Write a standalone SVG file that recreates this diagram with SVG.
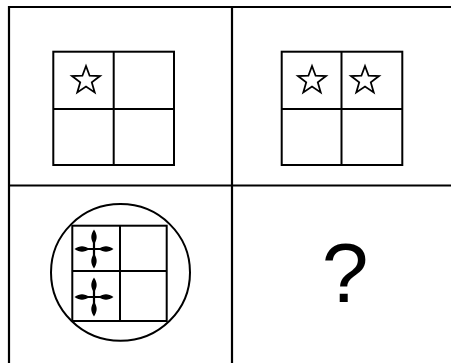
<svg xmlns="http://www.w3.org/2000/svg" xmlns:xlink="http://www.w3.org/1999/xlink" width="451" height="363" viewBox="0 0 451 363">
<style>
.frame{stroke:#000;stroke-width:2.2;fill:none}
.grid{stroke:#000;stroke-width:2;fill:none}
.star{stroke:#000;stroke-width:1.8;fill:#fff;stroke-linejoin:miter}
.q{font-family:"Liberation Sans",Arial,sans-serif;font-size:84px;fill:#000}
</style>
<defs>
<polygon id="star" points="0,-14.5 3.6,-4.8 14,-4.5 5.8,1.9 8.7,11.9 0,6.1 -8.7,11.9 -5.8,1.9 -14,-4.5 -3.6,-4.8"/>
<g id="cross">
<path d="M-16,0H16M0,-17V17" stroke="#000" stroke-width="2.2"/>
<path d="M0,-19.5C3.6,-14 3.6,-10 0,-4.5C-3.6,-10 -3.6,-14 0,-19.5Z M0,19.5C3.6,14 3.6,10 0,4.5C-3.6,10 -3.6,14 0,19.5Z M-19.5,0C-14,3.6 -10,3.6 -4.5,0C-10,-3.6 -14,-3.6 -19.5,0Z M19.5,0C14,3.6 10,3.6 4.5,0C10,-3.6 14,-3.6 19.5,0Z" fill="#000"/>
</g>
</defs>
<rect width="451" height="363" fill="#fff"/>
<g id="frame">
<path class="frame" d="M9,363V7H451M232,7V363M9,185.5H451"/>
</g>
<g id="panel1">
<rect class="grid" x="53.3" y="51.7" width="120.7" height="113.3"/>
<path class="grid" d="M113.7,51.7V165M53.3,109H174"/>
<use xlink:href="#star" class="star" x="86" y="80.5"/>
</g>
<g id="panel2">
<rect class="grid" x="281.7" y="51.7" width="120.6" height="113.3"/>
<path class="grid" d="M341.5,51.7V165M281.7,109H402.3"/>
<use xlink:href="#star" class="star" x="312" y="80.5"/>
<use xlink:href="#star" class="star" x="365" y="80.5"/>
</g>
<g id="panel3">
<ellipse class="grid" cx="120.5" cy="272.4" rx="69.5" ry="68.3"/>
<rect class="grid" x="72.3" y="225.7" width="94.4" height="95.3"/>
<path class="grid" d="M120,225.7V321M72.3,271H166.7"/>
<use xlink:href="#cross" x="94" y="249"/>
<use xlink:href="#cross" x="94" y="297"/>
</g>
<g id="panel4">
<text class="q" x="345" y="302" text-anchor="middle">?</text>
</g>
</svg>
